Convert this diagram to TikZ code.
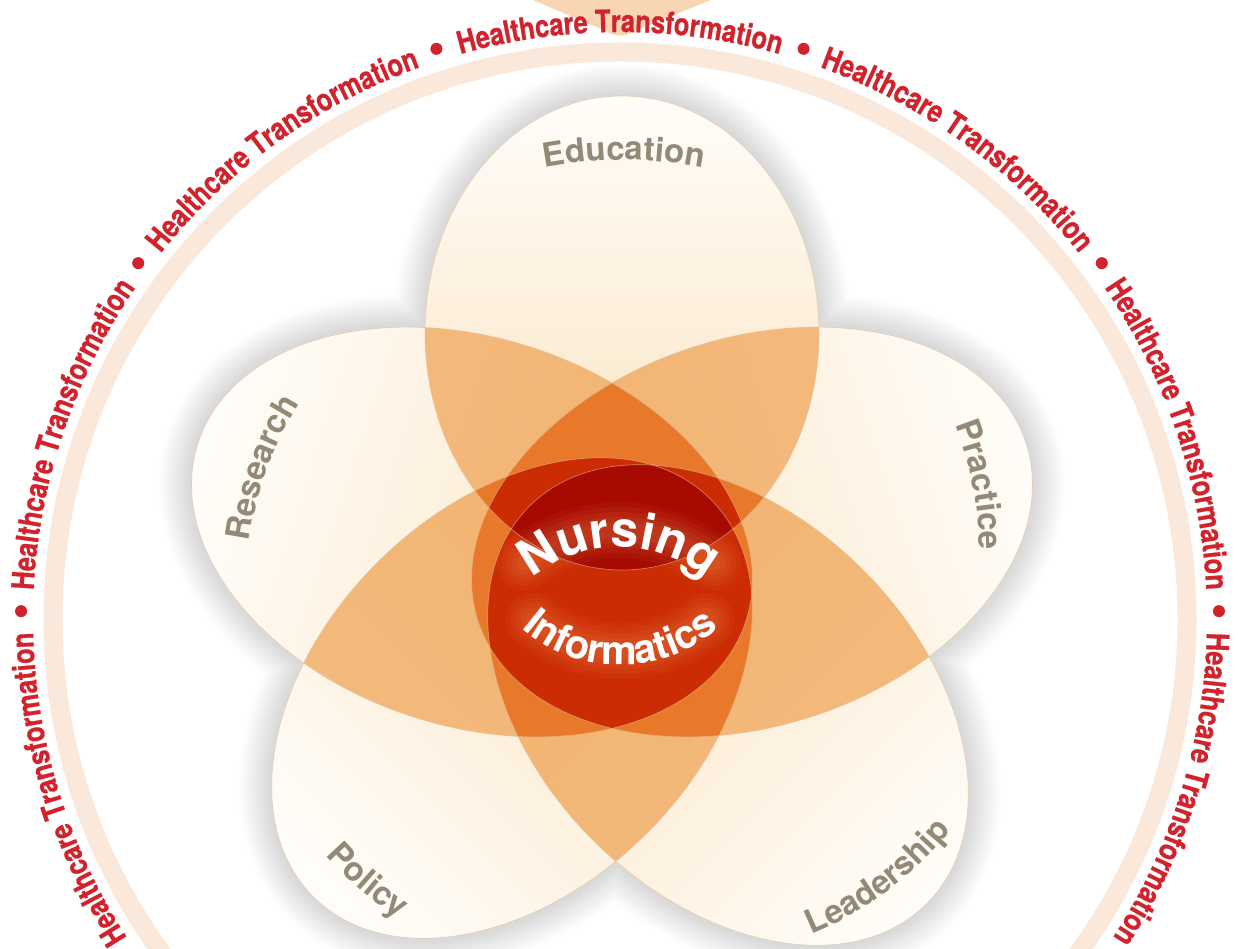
\documentclass[tikz,border=0pt]{standalone}
\usepackage{fontspec}
\usetikzlibrary{decorations.text}
\newfontfamily\hcfont[FakeStretch=0.82,FakeBold=0.8]{TeX Gyre Heros}
\newfontfamily\labfont[LetterSpace=6.0]{TeX Gyre Heros}
\newfontfamily\nifont{TeX Gyre Heros}
\definecolor{hcred}{RGB}{210,35,45}
\definecolor{ringc}{RGB}{250,233,219}
\definecolor{toppeach}{RGB}{248,214,180}
\definecolor{cfar}{RGB}{255,253,249}
\definecolor{cnear}{RGB}{250,224,186}
\definecolor{lvtwoc}{RGB}{238,155,70}
\definecolor{lvthreec}{RGB}{232,120,42}
\definecolor{lvfourc}{RGB}{203,44,3}
\definecolor{lvfivec}{RGB}{166,10,0}
\definecolor{labc}{RGB}{146,137,118}
\definecolor{edgec}{RGB}{225,190,150}
\definecolor{glowc}{RGB}{255,170,105}
\tikzset{
 tA/.style={shift={(622,615)},rotate=90},
 rA/.style={x radius=237pt,y radius=197pt},
 sA/.style={shading angle=0},
 tB/.style={shift={(472,416)},rotate=162},
 rB/.style={x radius=288pt,y radius=194pt},
 sB/.style={shading angle=72},
 tC/.style={shift={(752,416)},rotate=18},
 rC/.style={x radius=288pt,y radius=194pt},
 sC/.style={shading angle=-72},
 tD/.style={shift={(512,250)},rotate=225},
 rD/.style={x radius=281pt,y radius=191pt},
 sD/.style={shading angle=135},
 tE/.style={shift={(728,243)},rotate=315},
 rE/.style={x radius=281pt,y radius=191pt},
 sE/.style={shading angle=-135},
 lvtwo/.style={fill=lvtwoc,fill opacity=0.66},
 lvthree/.style={fill=lvthreec},
 lvfour/.style={fill=lvfourc},
 lvfive/.style={fill=lvfivec},
}
\newcommand\Cl[1]{\clip[t#1] (0,0) ellipse[r#1];}
\newcommand\Fi[2]{\fill[#1,t#2] (0,0) ellipse[r#2];}
\newcommand\Sh[1]{\shade[t#1,top color=cfar,bottom color=cnear,s#1] (0,0) ellipse[r#1];}
\newcommand\Ed[2]{\draw[#1,t#2] (0,0) ellipse[r#2];}
\newcommand\allE[1]{\Ed{#1}{A}\Ed{#1}{B}\Ed{#1}{C}\Ed{#1}{D}\Ed{#1}{E}}
\newcommand\hcstyle{\hcfont\bfseries\fontsize{31}{32}\selectfont}
\newcommand\labstyle{\labfont\bfseries\fontsize{33}{33}\selectfont}
\newcommand\nistyle{\nifont\bfseries\fontsize{50}{50}\selectfont}
\newcommand\infstyle{\nifont\bfseries\fontsize{40}{40}\selectfont}
\newcommand\toplab[5]{\begin{scope}[shift={(#1,#2)},shift={({#3+180}:#4pt)}]
 \path[decorate,decoration={text along path,text align=center,text color=labc,text={|\labstyle|#5}}] ({#3+30}:#4pt) arc[start angle=#3+30,end angle=#3-30,radius=#4pt];
 \end{scope}}
\newcommand\botlab[5]{\begin{scope}[shift={(#1,#2)},shift={(#3:#4pt)}]
 \path[decorate,decoration={text along path,text align=center,text color=labc,text={|\labstyle|#5}}] ({#3+150}:#4pt) arc[start angle=#3+150,end angle=#3+210,radius=#4pt];
 \end{scope}}
\begin{document}
\begin{tikzpicture}[x=1pt,y=1pt]
\useasboundingbox (0,0) rectangle (1238,948);
\clip (0,0) rectangle (1238,948);
\fill[white] (0,0) rectangle (1238,948);
% top peach shape
\fill[toppeach] (528,950) -- (606,917) .. controls (615,911) and (625,911) .. (634,917) -- (716,950) -- cycle;
% soft shadow
\foreach \i [evaluate=\i as \w using 66-4*\i, evaluate=\i as \g using 0.4+0.95*\i] in {0,...,15}{\allE{line width=\w pt,draw=black!\g}}
% ring
\draw[ringc,line width=19pt] (620,329) circle[radius=567pt];
\begin{scope}[shift={(620,329)}]
\foreach \k in {-3,...,3}{
 \pgfmathsetmacro\s{107.85-35.7*\k}
 \pgfmathsetmacro\e{72.15-35.7*\k}
 \path[decorate,decoration={text along path,text align=center,text color=hcred,text={|\hcstyle|Healthcare Transformation}}] (\s:587pt) arc[start angle=\s,end angle=\e,radius=587pt];
}
\foreach \k in {-4,...,3}{
 \pgfmathsetmacro\b{72.15-35.7*\k}
 \fill[hcred] (\b:599pt) circle[radius=6pt];
}
\end{scope}
% base petals
\Sh{A}\Sh{B}\Sh{C}\Sh{D}\Sh{E}
% two-fold overlaps
\begin{scope}\Cl{A}\Fi{lvtwo}{B}\end{scope}
\begin{scope}\Cl{A}\Fi{lvtwo}{C}\end{scope}
\begin{scope}\Cl{A}\Fi{lvtwo}{D}\end{scope}
\begin{scope}\Cl{A}\Fi{lvtwo}{E}\end{scope}
\begin{scope}\Cl{B}\Fi{lvtwo}{C}\end{scope}
\begin{scope}\Cl{B}\Fi{lvtwo}{D}\end{scope}
\begin{scope}\Cl{B}\Fi{lvtwo}{E}\end{scope}
\begin{scope}\Cl{C}\Fi{lvtwo}{D}\end{scope}
\begin{scope}\Cl{C}\Fi{lvtwo}{E}\end{scope}
\begin{scope}\Cl{D}\Fi{lvtwo}{E}\end{scope}
% three-fold
\begin{scope}\Cl{A}\Cl{B}\Fi{lvthree}{C}\end{scope}
\begin{scope}\Cl{A}\Cl{B}\Fi{lvthree}{D}\end{scope}
\begin{scope}\Cl{A}\Cl{B}\Fi{lvthree}{E}\end{scope}
\begin{scope}\Cl{A}\Cl{C}\Fi{lvthree}{D}\end{scope}
\begin{scope}\Cl{A}\Cl{C}\Fi{lvthree}{E}\end{scope}
\begin{scope}\Cl{A}\Cl{D}\Fi{lvthree}{E}\end{scope}
\begin{scope}\Cl{B}\Cl{C}\Fi{lvthree}{D}\end{scope}
\begin{scope}\Cl{B}\Cl{C}\Fi{lvthree}{E}\end{scope}
\begin{scope}\Cl{B}\Cl{D}\Fi{lvthree}{E}\end{scope}
\begin{scope}\Cl{C}\Cl{D}\Fi{lvthree}{E}\end{scope}
% four-fold
\begin{scope}\Cl{A}\Cl{B}\Cl{C}\Fi{lvfour}{D}\end{scope}
\begin{scope}\Cl{A}\Cl{B}\Cl{C}\Fi{lvfour}{E}\end{scope}
\begin{scope}\Cl{A}\Cl{B}\Cl{D}\Fi{lvfour}{E}\end{scope}
\begin{scope}\Cl{A}\Cl{C}\Cl{D}\Fi{lvfour}{E}\end{scope}
\begin{scope}\Cl{B}\Cl{C}\Cl{D}\Fi{lvfour}{E}\end{scope}
% five-fold
\begin{scope}\Cl{A}\Cl{B}\Cl{C}\Cl{D}\Fi{lvfive}{E}\end{scope}
% outlines
\allE{line width=0.7pt,draw=edgec,draw opacity=0.6}
% labels
\toplab{624}{788}{90}{430}{Education}
\toplab{267}{478}{160}{350}{Research}
\toplab{973}{462}{11}{350}{Practice}
\botlab{888}{57}{126.8}{350}{Leadership}
\botlab{360}{58}{49}{350}{Policy}
% soft glow bands behind the centre text
\begin{scope}[line cap=round]
\foreach \w/\o in {56/0.05,46/0.06,36/0.07,26/0.08,16/0.08}{
 \draw[glowc,line width=\w pt,opacity=\o] (619,265) ++(128:153pt) arc[start angle=128,end angle=52,radius=153pt];
 \draw[glowc,line width=\w pt,opacity=\o] (620,434) ++(231:137pt) arc[start angle=231,end angle=309,radius=137pt];
}
\end{scope}
% centre text
\begin{scope}[shift={(619,265)}]
 \path[decorate,decoration={text along path,text align=center,text color=white,text={|\nistyle|Nursing}}] (150:136pt) arc[start angle=150,end angle=30,radius=136pt];
\end{scope}
\begin{scope}[shift={(620,434)}]
 \path[decorate,decoration={text along path,text align=center,text color=white,text={|\infstyle|Informatics}}] (200:151pt) arc[start angle=200,end angle=340,radius=151pt];
\end{scope}
\end{tikzpicture}
\end{document}
